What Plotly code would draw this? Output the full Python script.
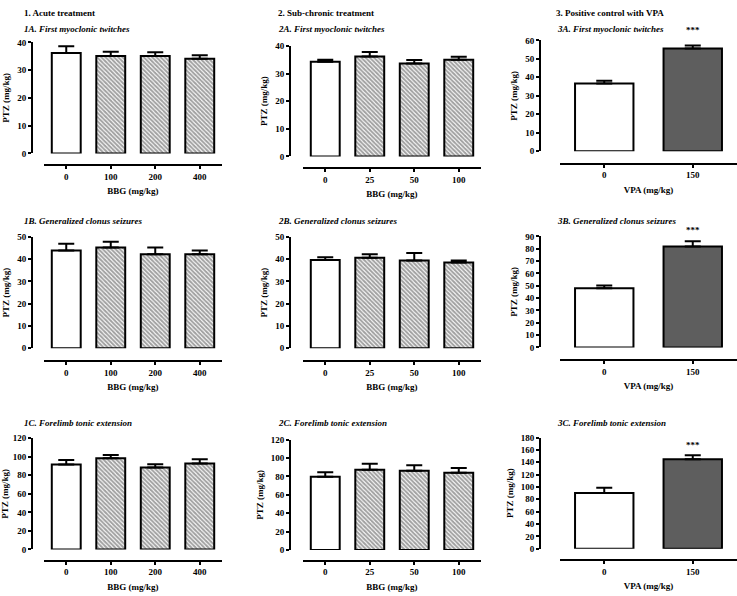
import plotly.graph_objects as go

W, H = 737, 596

# ---- data ----
acute_doses = ["0", "100", "200", "400"]
subchronic_doses = ["0", "25", "50", "100"]
vpa_doses = ["0", "150"]

acute_myo = [36.2, 35.1, 35.1, 34.1]
acute_myo_sem = [2.4, 1.5, 1.3, 1.3]
acute_clonus = [43.9, 45.3, 42.3, 42.3]
acute_clonus_sem = [3.1, 2.6, 3.0, 1.6]
acute_tonic = [91.8, 98.4, 88.6, 92.8]
acute_tonic_sem = [4.8, 3.6, 3.5, 4.6]

sub_myo = [34.3, 36.2, 33.7, 35.0]
sub_myo_sem = [0.7, 1.6, 1.2, 1.1]
sub_clonus = [39.7, 40.7, 39.4, 38.5]
sub_clonus_sem = [1.2, 1.5, 3.4, 0.9]
sub_tonic = [79.7, 87.2, 86.1, 84.0]
sub_tonic_sem = [4.7, 6.4, 6.1, 5.0]

vpa_myo = [36.7, 55.6]
vpa_myo_sem = [1.5, 1.7]
vpa_clonus = [48.0, 81.7]
vpa_clonus_sem = [2.2, 4.3]
vpa_tonic = [90.3, 145.0]
vpa_tonic_sem = [8.5, 6.3]

col_headers = ["1. Acute treatment", "2. Sub-chronic treatment", "3. Positive control with VPA"]

panels = [
    # title, doses, values, sem, ymax, dtick, xlabel, row, col
    ("1A. First myoclonic twitches", acute_doses, acute_myo, acute_myo_sem, 40, 10, "BBG (mg/kg)", 0, 0),
    ("1B. Generalized clonus seizures", acute_doses, acute_clonus, acute_clonus_sem, 50, 10, "BBG (mg/kg)", 1, 0),
    ("1C. Forelimb tonic extension", acute_doses, acute_tonic, acute_tonic_sem, 120, 20, "BBG (mg/kg)", 2, 0),
    ("2A. First myoclonic twitches", subchronic_doses, sub_myo, sub_myo_sem, 40, 10, "BBG (mg/kg)", 0, 1),
    ("2B. Generalized clonus seizures", subchronic_doses, sub_clonus, sub_clonus_sem, 50, 10, "BBG (mg/kg)", 1, 1),
    ("2C. Forelimb tonic extension", subchronic_doses, sub_tonic, sub_tonic_sem, 120, 20, "BBG (mg/kg)", 2, 1),
    ("3A. First myoclonic twitches", vpa_doses, vpa_myo, vpa_myo_sem, 60, 10, "VPA (mg/kg)", 0, 2),
    ("3B. Generalized clonus seizures", vpa_doses, vpa_clonus, vpa_clonus_sem, 90, 10, "VPA (mg/kg)", 1, 2),
    ("3C. Forelimb tonic extension", vpa_doses, vpa_tonic, vpa_tonic_sem, 180, 20, "VPA (mg/kg)", 2, 2),
]

# ---- layout geometry in pixels ----
col_geo = [(32, 44, 222), (290, 303, 481), (540, 560, 737)]  # y-axis x, x-domain
row_geo = [  # (top, bottom, x-axis line) for each column
    [(38, 151, 163), (41.7, 154, 165.7), (36, 148.7, 161.3)],
    [(236, 349, 362), (236, 349, 362), (235.3, 348.3, 361.3)],
    [(440.7, 553.7, 565), (442, 554.3, 565), (440, 553, 564.3)],
]
title_y = [24, 220, 425]
header_x = [22, 276, 554]
title_x = [22, 276, 555]
star_shift = [15, 11, 10]

FONT = "Liberation Serif"


def fx(p):
    return p / W


def fy(p):
    return 1 - p / H


fig = go.Figure()
annotations = []

for i, (title, doses, vals, sem, ymax, dtick, xlabel, r, c) in enumerate(panels):
    n = i + 1
    sfx = "" if n == 1 else str(n)
    yax_x, x0, x1 = col_geo[c]
    top, bot, xline = row_geo[r][c]

    if c == 2:
        colors = ["white", "#5e5e5e"]
        patterns = ["", ""]
    else:
        colors = ["white"] * len(doses)
        patterns = [""] + ["\\"] * (len(doses) - 1)

    fig.add_trace(go.Bar(
        x=doses, y=vals,
        xaxis="x" + sfx, yaxis="y" + sfx,
        width=0.65 if c < 2 else 0.66,
        marker=dict(
            color=colors,
            line=dict(color="black", width=2),
            pattern=dict(shape=patterns, size=3, solidity=0.65,
                         fgcolor="#111111", bgcolor="white", fillmode="overlay"),
        ),
        error_y=dict(type="data", symmetric=False, array=sem,
                     arrayminus=[0] * len(sem),
                     color="black", thickness=2, width=8),
        showlegend=False,
    ))

    fig.layout["xaxis" + sfx] = dict(
        domain=[fx(x0), fx(x1)], anchor="free", position=fy(xline),
        type="category", range=[-0.5, len(doses) - 0.5],
        showline=True, linecolor="black", linewidth=2,
        ticks="outside", ticklen=3, tickwidth=1.5, tickcolor="black",
        showgrid=False, zeroline=False, fixedrange=True,
        tickfont=dict(family=FONT, size=9, color="black", weight="bold"),
        title=dict(text=xlabel, standoff=6,
                   font=dict(family=FONT, size=9, color="black", weight="bold")),
    )
    fig.layout["yaxis" + sfx] = dict(
        domain=[fy(bot), fy(top)], anchor="free", position=fx(yax_x),
        range=[0, ymax], dtick=dtick, tick0=0,
        showline=True, linecolor="black", linewidth=2,
        ticks="outside", ticklen=3, tickwidth=1.5, tickcolor="black",
        showgrid=False, zeroline=False, fixedrange=True,
        tickfont=dict(family=FONT, size=9, color="black", weight="bold"),
        title=dict(text="PTZ (mg/kg)", standoff=5,
                   font=dict(family=FONT, size=9, color="black", weight="bold")),
    )

    annotations.append(dict(
        xref="paper", yref="paper", x=fx(title_x[c]), y=fy(title_y[r]),
        xanchor="left", yanchor="middle", showarrow=False,
        text="<b><i>" + title + "</i></b>",
        font=dict(family=FONT, size=9, color="black"),
    ))

    if c == 2:
        # significance stars above the VPA bar (x given as category index)
        annotations.append(dict(
            xref="x" + sfx, yref="y" + sfx, x=1, y=vals[1] + sem[1],
            yshift=star_shift[r], showarrow=False, text="<b>***</b>",
            font=dict(family=FONT, size=9, color="black"),
        ))

for c, h in enumerate(col_headers):
    annotations.append(dict(
        xref="paper", yref="paper", x=fx(header_x[c]), y=fy(8),
        xanchor="left", yanchor="middle", showarrow=False,
        text="<b>" + h + "</b>",
        font=dict(family=FONT, size=9, color="black"),
    ))

fig.update_layout(
    width=W, height=H,
    margin=dict(l=0, r=0, t=0, b=0),
    paper_bgcolor="white", plot_bgcolor="white",
    annotations=annotations,
)

# drop the default page margin so the figure sits at the window's corner
fig.write_html("out.html", config={"displayModeBar": False},
               post_script="document.body.style.margin='0';")
